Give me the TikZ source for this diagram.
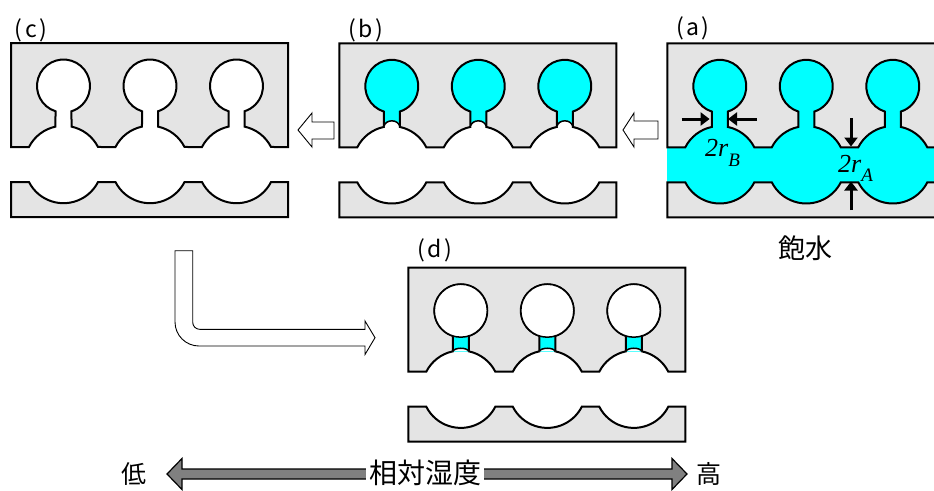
\documentclass[tikz,border=0pt]{standalone}
\usepackage{fontspec}
\newfontfamily\jpfont{Noto Sans CJK JP}
\newfontfamily\tnrfont{Liberation Serif}
\usetikzlibrary{arrows.meta}

\definecolor{wallgray}{RGB}{228,228,228}
\definecolor{water}{RGB}{0,255,255}
\definecolor{bargray}{RGB}{128,128,128}

\tikzset{
  wall/.style={fill=wallgray, draw=black, line width=2pt, line join=miter},
  meniscus/.style={fill=white, draw=black, line width=1.5pt},
  hollowarrow/.style={fill=white, draw=black, line width=0.9pt, line join=miter},
  gaugearrow/.style={line width=3pt, -{Triangle[length=9pt,width=13pt]}},
  panellabel/.style={inner sep=0pt, font=\jpfont\fontsize{23pt}{23pt}\selectfont},
  jptext/.style={inner sep=0pt, font=\jpfont\fontsize{25pt}{25pt}\selectfont},
  sizelabel/.style={anchor=base west, inner sep=0pt, font=\tnrfont\itshape\fontsize{26pt}{26pt}\selectfont},
}

% Upper wall with three ink-bottle pores, and the lower wall with the
% matching half-cavities; local frame 277 x 174, y pointing down.
\newcommand\poreblocks{%
  \path[wall] (0,0) -- (0,104)
    foreach \c in {52.5,139,225.5}{
      -- (\c-34.517,104)
      arc[start angle=206.89, end angle=258.07, radius=38.7]
      -- (\c-8,68.264)
      arc[start angle=107.57, end angle=432.43, radius=26.5]
      -- (\c+8,83.636)
      arc[start angle=281.93, end angle=333.11, radius=38.7]
    }
    -- (277,104) -- (277,0) -- cycle;
  \path[wall] (0,139)
    foreach \c in {52.5,139,225.5}{
      -- (\c-34.517,139)
      arc[start angle=153.11, end angle=26.89, radius=38.7]
    }
    -- (277,139) -- (277,174) -- (0,174) -- cycle;
}

% panel label text with the wide parentheses
\newcommand\plabel[1]{(\kern2.5pt#1\kern2.5pt)}

\begin{document}
\begin{tikzpicture}[x=1pt,y=-1pt]
\path[use as bounding box] (0,0) rectangle (934,490);
\clip (0,0) rectangle (934,490);

% (a) saturated
\begin{scope}[shift={(667.3,43.3)}]
  \fill[water] (0,0) rectangle (277,174);
  \poreblocks
\end{scope}

% (b) water held in the bottle pores
\begin{scope}[shift={(339.3,43.3)}]
  \foreach \c in {52.5,139,225.5}{
    \fill[water] (\c,43) circle[radius=26.5];
    \fill[water] (\c-8,60) rectangle (\c+8,84);
  }
  \poreblocks
  \foreach \c in {52.5,139,225.5}
    \path[meniscus] (\c-8,83.636) .. controls (\c-7,75.5) and (\c+7,75.5) .. (\c+8,83.636);
\end{scope}

% (c) dry
\begin{scope}[shift={(11,43)}]
  \poreblocks
\end{scope}

% (d) water held in the necks only
\begin{scope}[shift={(408.3,267.7)}]
  \foreach \c in {52.5,139,225.5}
    \fill[water] (\c-8,62) rectangle (\c+8,84);
  \poreblocks
  \foreach \c in {52.5,139,225.5}{
    \path[meniscus] (\c,43) circle[radius=26.5];
    \path[meniscus] (\c-8,83.636) .. controls (\c-6,79.5) and (\c+6,79.5) .. (\c+8,83.636);
  }
\end{scope}

% panel labels
\node[panellabel] (la) at (693,28) {\plabel{a}};
\node[panellabel] (lb) at (366,30) {\plabel{b}};
\node[panellabel] (lc) at (31,30) {\plabel{c}};
\node[panellabel] (ld) at (435,250) {\plabel{d}};
\node[inner sep=0pt, font=\jpfont\fontsize{27pt}{27pt}\selectfont] (sat) at (805,248) {飽水};

% neck and cavity opening sizes
\coordinate (bL0) at (681.7,119); \coordinate (bL1) at (709.6,119);
\coordinate (bR0) at (756.7,119); \coordinate (bR1) at (728.0,119);
\coordinate (aT0) at (851,118);   \coordinate (aT1) at (851,146.5);
\coordinate (aB0) at (851,210);   \coordinate (aB1) at (851,181.5);
\draw[gaugearrow] (bL0) -- (bL1);
\draw[gaugearrow] (bR0) -- (bR1);
\draw[gaugearrow] (aT0) -- (aT1);
\draw[gaugearrow] (aB0) -- (aB1);
\node[sizelabel] (rB) at (705,156) {2r\raisebox{-10pt}{\fontsize{19pt}{19pt}\selectfont B}};
\node[sizelabel] (rA) at (838,172) {2r\raisebox{-9.5pt}{\fontsize{19pt}{19pt}\selectfont A}};

% drying sequence arrows
\path[hollowarrow] (623,130) -- (634,113) -- (634,121) -- (658,121) -- (658,139)
  -- (634,139) -- (634,147) -- cycle;
\path[hollowarrow] (298,130) -- (312,113) -- (312,122) -- (334,122) -- (334,139)
  -- (312,139) -- (312,147) -- cycle;
\path[hollowarrow] (175,250.7) -- (192.7,250.7) -- (192.7,322.3)
  arc[start angle=180, end angle=90, radius=7]
  -- (365,329.3) -- (365,321) -- (375,337.7) -- (365,354.5) -- (365,346)
  -- (199,346) arc[start angle=90, end angle=180, radius=24] -- cycle;

% relative humidity scale
\path[fill=bargray, draw=black, line width=1.2pt, line join=miter]
  (167,474) -- (182,458.5) -- (182,469) -- (672,469) -- (672,458.5) -- (687,474)
  -- (672,489.5) -- (672,479) -- (182,479) -- (182,489.5) -- cycle;
\node[jptext, fill=white, inner xsep=3pt, inner ysep=4pt, font=\jpfont\fontsize{28pt}{28pt}\selectfont] (rh) at (425,473) {相対湿度};
\node[jptext] (low) at (134,474) {低};
\node[jptext] (high) at (709,474) {高};
\end{tikzpicture}
\end{document}
